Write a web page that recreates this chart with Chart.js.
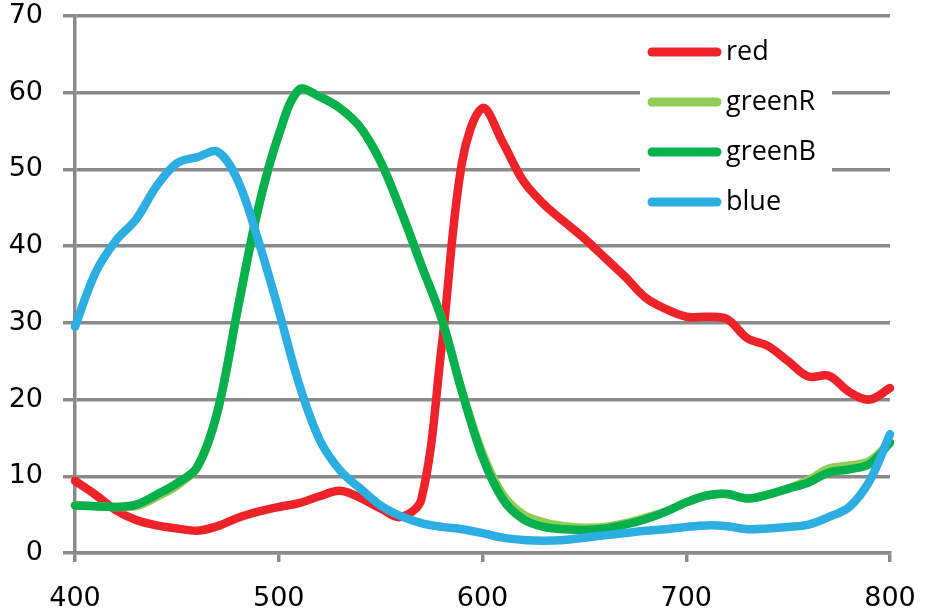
<!DOCTYPE html>
<html>
<head>
<meta charset="utf-8">
<script src="https://cdn.jsdelivr.net/npm/chart.js@4/dist/chart.umd.min.js"></script>
<style>
  html, body { margin: 0; padding: 0; background: #fff; }
  #wrap { width: 925px; height: 611px; }
</style>
</head>
<body>
<div id="wrap"><canvas id="chart"></canvas></div>
<script>
// wavelength (nm), 10 nm steps
const WAVELENGTHS = [400, 410, 420, 430, 440, 450, 460, 470, 480, 490,
  500, 510, 520, 530, 540, 550, 560, 570, 580, 590,
  600, 610, 620, 630, 640, 650, 660, 670, 680, 690,
  700, 710, 720, 730, 740, 750, 760, 770, 780, 790, 800];

const RED = [9.4, 7.6, 5.6, 4.3, 3.6, 3.2, 2.9, 3.5, 4.6, 5.4,
  6.0, 6.5, 7.4, 8.1, 7.2, 5.8, 4.7, 7.0, 27, 51,
  58, 53.5, 48.5, 45.5, 43.2, 41, 38.5, 36, 33.3, 31.8,
  30.8, 30.8, 30.5, 28, 27, 25, 23, 23.1, 21, 20, 21.5];

const GREEN_R = [6.2, 6.1, 6.0, 6.1, 7.3, 8.8, 11.2, 18.5, 32, 45,
  54.5, 60.4, 59.5, 58, 55.5, 51, 44.6, 37.5, 30.5, 21,
  13, 7.6, 5.0, 4.0, 3.5, 3.3, 3.4, 3.9, 4.6, 5.4,
  6.6, 7.5, 7.7, 7.1, 7.6, 8.4, 9.5, 11.0, 11.4, 12.0, 14.4];

const GREEN_B = [6.2, 6.1, 6.0, 6.3, 7.6, 9.1, 11.2, 18.5, 32, 45,
  54.5, 60.4, 59.5, 58, 55.5, 51, 44.6, 37.5, 30.5, 21,
  12.5, 7, 4.4, 3.4, 3.1, 3.0, 3.2, 3.7, 4.4, 5.4,
  6.6, 7.5, 7.7, 7.1, 7.6, 8.4, 9.2, 10.5, 10.9, 11.6, 14.4];

const BLUE = [29.5, 36.5, 40.7, 43.5, 47.8, 50.8, 51.6, 52.3, 48.5, 40.7,
  31.6, 22, 14.8, 10.8, 8.4, 6.2, 4.8, 3.9, 3.4, 3.1,
  2.6, 2.0, 1.7, 1.6, 1.7, 2.0, 2.3, 2.6, 2.9, 3.1,
  3.4, 3.6, 3.5, 3.1, 3.2, 3.4, 3.7, 4.7, 6.0, 9.4, 15.5];

const SERIES_LABELS = ["red", "greenR", "greenB", "blue"];
const SERIES_COLORS = ["#ee2229", "#92cd55", "#06b04d", "#2daee3"];
const SERIES_VALUES = [RED, GREEN_R, GREEN_B, BLUE];

const GRID = "#8a8a8a";
const TICK_FONT = { family: "'DejaVu Sans', sans-serif", size: 27 };

function toPoints(values) {
  return values.map((v, i) => ({ x: WAVELENGTHS[i], y: v }));
}

// legend sits inside the plot, top right, on a white box that hides the gridlines
const insideLegend = {
  id: "insideLegend",
  afterDatasetsDraw(chart) {
    const ctx = chart.ctx;
    ctx.save();
    ctx.fillStyle = "#fff";
    ctx.fillRect(640, 30, 192, 192);
    ctx.font = "27px 'Open Sans', sans-serif";
    ctx.textBaseline = "middle";
    chart.data.datasets.forEach((ds, i) => {
      const y = 52 + i * 50;
      ctx.strokeStyle = ds.borderColor;
      ctx.lineWidth = 9;
      ctx.lineCap = "round";
      ctx.beginPath();
      ctx.moveTo(652, y);
      ctx.lineTo(717, y);
      ctx.stroke();
      ctx.fillStyle = "#000";
      ctx.fillText(ds.label, 726, y);
    });
    ctx.restore();
  },
};

new Chart(document.getElementById("chart"), {
  type: "line",
  data: {
    datasets: SERIES_LABELS.map((label, i) => ({
      label,
      data: toPoints(SERIES_VALUES[i]),
      borderColor: SERIES_COLORS[i],
      backgroundColor: SERIES_COLORS[i],
      borderWidth: 8.5,
      borderCapStyle: "round",
      borderJoinStyle: "round",
      pointRadius: 0,
      tension: 0.35,
      clip: false,
      order: SERIES_LABELS.length - i, // later series on top, like the original
    })),
  },
  options: {
    responsive: true,
    maintainAspectRatio: false,
    animation: false,
    layout: { padding: { top: 16, right: 35, left: 0, bottom: 0 } },
    plugins: { legend: { display: false }, tooltip: { enabled: false } },
    scales: {
      x: {
        type: "linear",
        min: 400,
        max: 800,
        ticks: { stepSize: 100, color: "#000", font: TICK_FONT, padding: 21, maxRotation: 0 },
        grid: { drawOnChartArea: false, drawTicks: true, tickLength: 9, color: GRID, lineWidth: 3.5 },
        border: { display: true, color: GRID, width: 3.5 },
        // fixed band height; label overhang is covered by layout padding instead
        afterFit: (s) => { s.height = 58; s.paddingLeft = 0; s.paddingRight = 0; },
      },
      y: {
        type: "linear",
        min: 0,
        max: 70,
        ticks: { stepSize: 10, color: "#000", font: TICK_FONT, padding: 20 },
        grid: { color: GRID, lineWidth: 3.5, tickLength: 12, drawTicks: true },
        border: { display: true, color: GRID, width: 3.5 },
        afterFit: (s) => { s.width = 75; s.paddingTop = 0; s.paddingBottom = 0; },
      },
    },
  },
  plugins: [insideLegend],
});
</script>
</body>
</html>
